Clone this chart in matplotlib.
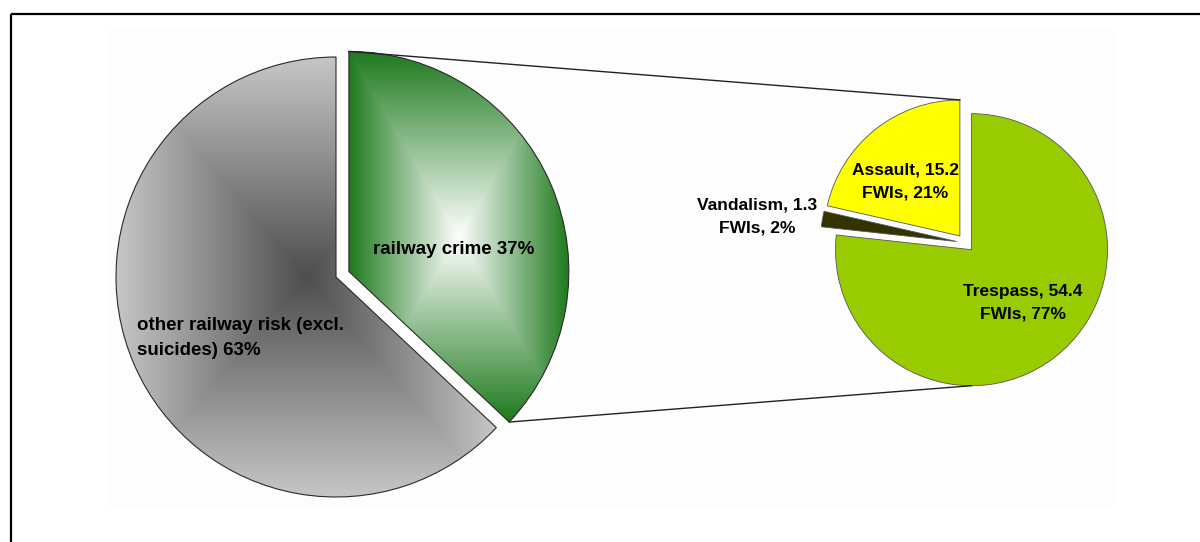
import numpy as np
import matplotlib
matplotlib.use("Agg")
import matplotlib.pyplot as plt
from matplotlib.colors import to_rgb
from matplotlib.patches import Rectangle

# share of total railway risk
main_labels = ["railway crime", "other railway risk (excl.\nsuicides)"]
main_values = [37, 63]

# breakdown of railway crime, FWIs
crime_labels = ["Trespass", "Vandalism", "Assault"]
crime_fwis = [54.4, 1.3, 15.2]
crime_colors = ["#99CC00", "#333300", "#FFFF00"]

W, H = 1200, 542
plt.rcParams["font.family"] = ["Liberation Sans", "DejaVu Sans"]

fig = plt.figure(figsize=(W / 100, H / 100), dpi=100)
ax = fig.add_axes([0, 0, 1, 1])

# frame lines and plot area
ax.plot([11, W], [H - 14, H - 14], color="black", lw=1.6, solid_capstyle="butt")
ax.plot([11, 11], [H - 14, 0], color="black", lw=1.6, solid_capstyle="butt")
ax.add_patch(Rectangle((107, H - 508), 1007, 479, facecolor="#FDFDFD",
                       edgecolor="none", zorder=0))


def rect_gradient(ax, wedge, inner, outer):
    # "from centre" fill: colour runs outwards to the wedge's bounding box
    bb = wedge.get_path().get_extents()
    n = 400
    u = np.linspace(-1, 1, n)
    xx, yy = np.meshgrid(u, u)
    t = np.maximum(np.abs(xx), np.abs(yy))[..., None]
    c0 = np.array(to_rgb(inner))
    c1 = np.array(to_rgb(outer))
    img = c0 + (c1 - c0) * t
    im = ax.imshow(img, extent=[bb.x0, bb.x1, bb.y0, bb.y1], origin="lower",
                   interpolation="bilinear", zorder=1)
    im.set_clip_path(wedge)
    wedge.set_facecolor("none")
    wedge.set_zorder(2)


# left pie (explode is in data units here)
left, _ = ax.pie(main_values, startangle=90, counterclock=False,
                 explode=[14, 0], center=(336, H - 277), radius=220,
                 wedgeprops=dict(edgecolor="#2a2a2a", linewidth=0.8),
                 frame=True)
rect_gradient(ax, left[0], "#FFFFFF", "#1E7A1E")
rect_gradient(ax, left[1], "#4E4E4E", "#C6C6C6")

# right pie
right, _ = ax.pie(crime_fwis, startangle=90, counterclock=False,
                  explode=[9] * 3, colors=crime_colors,
                  center=(965.5, H - 243), radius=136,
                  wedgeprops=dict(edgecolor="#555555", linewidth=0.6),
                  frame=True)
ax.set_xlim(0, W)
ax.set_ylim(0, H)
ax.set_aspect("equal")
ax.axis("off")

# connector lines between the crime slice and the breakdown pie
crime = left[0]
cx, cy = crime.center
r = crime.r
tip = np.deg2rad(crime.theta1)
ax_c, ay_c = right[2].center
tx_c, ty_c = right[0].center
ax.plot([cx, ax_c], [cy + r, ay_c + right[2].r], color="#222222", lw=1.0, zorder=3)
ax.plot([cx + r * np.cos(tip), tx_c], [cy + r * np.sin(tip), ty_c - right[0].r],
        color="#222222", lw=1.0, zorder=3)

# labels
txt = dict(fontweight="bold", color="black", zorder=5)
ax.text(454, H - 250, f"{main_labels[0]} {main_values[0]}%", ha="center",
        va="center", fontsize=13.5, **txt)
ax.text(137, H - 338, f"{main_labels[1]} {main_values[1]}%", ha="left",
        va="center", fontsize=13.5, linespacing=1.6, **txt)

total = sum(crime_fwis)
label_pos = [(1023, 302.5), (757, 216.5), (905, 181.5)]
for name, val, (x, y) in zip(crime_labels, crime_fwis, label_pos):
    ax.text(x, H - y, f"{name}, {val}\nFWIs, {val / total * 100:.0f}%",
            ha="center", va="center", fontsize=12.5, linespacing=1.62, **txt)

fig.savefig("out.png", dpi=100)
